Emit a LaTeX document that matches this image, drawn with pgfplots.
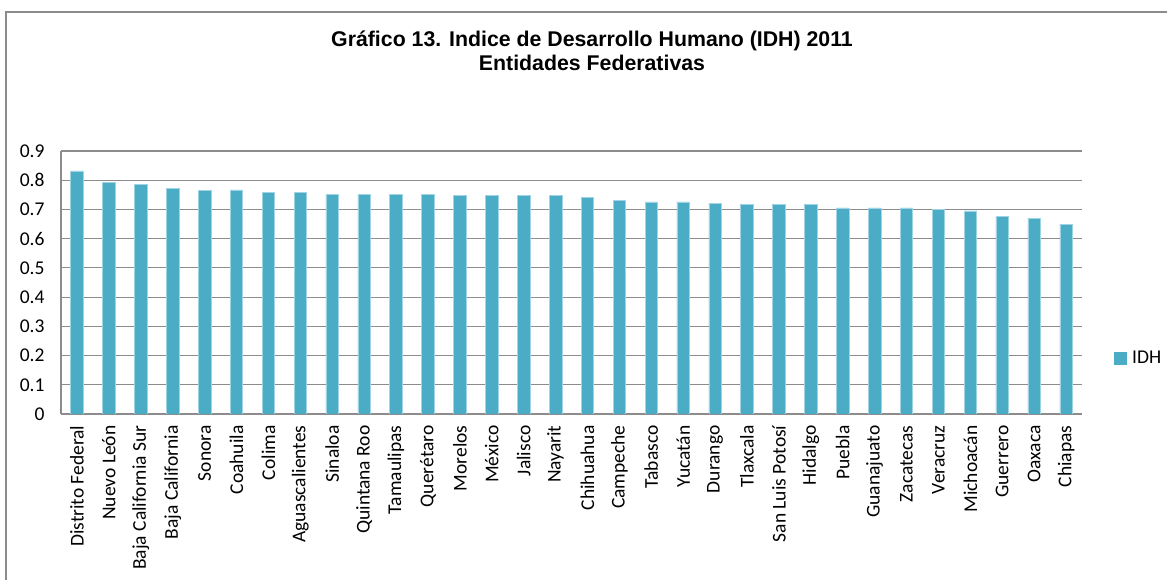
\documentclass[border=0pt]{standalone}
\usepackage{pgfplots}
\pgfplotsset{compat=1.18}
\usepackage{fontspec}
\setmainfont{Carlito}
\newfontfamily\titlefont{Liberation Sans}
\definecolor{barblue}{RGB}{75,172,198}
\definecolor{baredge}{RGB}{160,212,228}
\definecolor{gridgray}{RGB}{140,140,140}

\begin{document}
\begin{tikzpicture}[x=1pt,y=1pt]
\useasboundingbox (0,0) rectangle (1167,580);
\draw[gridgray, line width=1.2pt] (6,0) -- (6,568) -- (1167,568);
\node[anchor=base, font=\titlefont\bfseries\fontsize{21.3}{25}\selectfont] at (592,533) {Gráfico 13. Indice de Desarrollo Humano (IDH) 2011};
\node[anchor=base, font=\titlefont\bfseries\fontsize{21.3}{25}\selectfont] at (592,509.5) {Entidades Federativas};
\begin{axis}[
    at={(61pt,166pt)}, anchor=south west,
    scale only axis, width=1021pt, height=263pt,
    ybar, bar width=12.5pt,
    xmin=-0.5, xmax=31.5, ymin=0, ymax=0.9,
    enlargelimits=false,
    xtick={0,...,31},
    xticklabels={Distrito Federal, Nuevo León, Baja California Sur, Baja California, Sonora, Coahuila, Colima, Aguascalientes, Sinaloa, Quintana Roo, Tamaulipas, Querétaro, Morelos, México, Jalisco, Nayarit, Chihuahua, Campeche, Tabasco, Yucatán, Durango, Tlaxcala, San Luis Potosí, Hidalgo, Puebla, Guanajuato, Zacatecas, Veracruz, Michoacán, Guerrero, Oaxaca, Chiapas},
    ytick={0,0.1,0.2,0.3,0.4,0.5,0.6,0.7,0.8,0.9},
    yticklabel style={/pgf/number format/fixed, /pgf/number format/precision=1, anchor=east, xshift=-13pt},
    /pgf/number format/assume math mode=true,
    x tick label style={rotate=90, anchor=east, xshift=-8pt},
    tick label style={font=\fontsize{19.5}{23}\selectfont},
    major tick length=0pt,
    axis x line*=bottom, axis y line*=left,
    axis line style={gridgray, line width=1.2pt, -},
    ymajorgrids, grid style={gridgray, line width=1.2pt},
    legend style={draw=none, fill=none, at={(1.031,0.213)}, anchor=west, inner sep=0pt, font=\fontsize{19.5}{23}\selectfont},
    legend image code/.code={\fill[barblue] (0pt,-6pt) rectangle (12pt,6pt); \path[draw=none] (0pt,0pt) -- (16pt,0pt);},
]
\addplot[fill=barblue, draw=baredge, line width=0.6pt] coordinates {
(0,0.832) (1,0.792) (2,0.787) (3,0.771) (4,0.766) (5,0.767) (6,0.757) (7,0.757)
(8,0.751) (9,0.751) (10,0.751) (11,0.751) (12,0.747) (13,0.747) (14,0.747) (15,0.747)
(16,0.741) (17,0.730) (18,0.726) (19,0.726) (20,0.721) (21,0.716) (22,0.716) (23,0.716)
(24,0.705) (25,0.705) (26,0.705) (27,0.700) (28,0.695) (29,0.675) (30,0.670) (31,0.650)};
\addlegendentry{IDH}
\end{axis}
\end{tikzpicture}
\end{document}
